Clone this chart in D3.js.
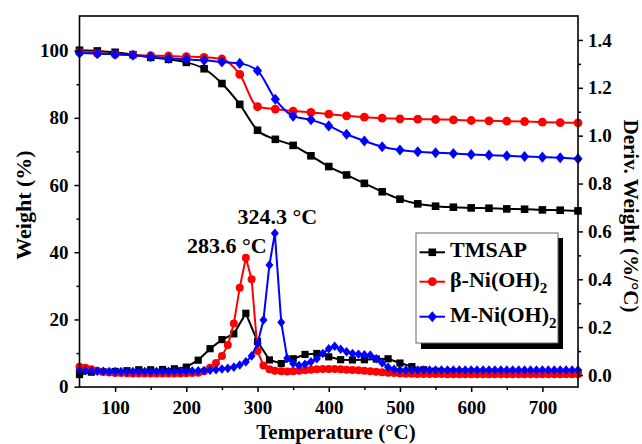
<!DOCTYPE html>
<html>
<head>
<meta charset="utf-8">
<script src="https://cdn.jsdelivr.net/npm/d3@7"></script>
<style>
  body { margin: 0; background: #fff; }
  svg { display: block; }
  text { font-family: "Liberation Serif", "Times New Roman", serif; font-weight: bold; fill: #000; }
</style>
</head>
<body>
<svg id="chart" width="642" height="444"></svg>
<script>
// ---- TG curves (weight %, left axis), sampled every 25 °C ----
const tgTemp = [50, 75, 100, 125, 150, 175, 200, 225, 250, 275, 300, 325, 350, 375, 400,
  425, 450, 475, 500, 525, 550, 575, 600, 625, 650, 675, 700, 725, 750];
const tgTmsap = [100.1, 99.9, 99.5, 98.8, 98.0, 97.4, 96.5, 94.6, 90.2, 84.0, 76.3, 73.6, 71.8, 68.7, 65.5,
  63.0, 60.5, 58.0, 55.8, 54.4, 53.7, 53.4, 53.2, 53.1, 52.9, 52.8, 52.6, 52.5, 52.3];
const tgBeta = [99.5, 99.2, 98.9, 98.7, 98.5, 98.4, 98.2, 98.0, 97.5, 92.9, 83.3, 82.6, 82.0, 81.6, 81.1,
  80.6, 80.2, 79.9, 79.7, 79.6, 79.5, 79.4, 79.2, 79.1, 79.0, 78.9, 78.7, 78.6, 78.5];
const tgM = [99.3, 99.1, 98.9, 98.6, 98.2, 97.7, 97.4, 97.1, 96.6, 96.2, 94.0, 85.5, 80.5, 79.4, 77.6,
  75.1, 73.1, 71.4, 70.4, 69.9, 69.6, 69.4, 69.1, 68.9, 68.7, 68.5, 68.3, 68.1, 67.8];

// ---- DTG curves (%/°C, right axis) ----
const dtgTemp = [50, 58.3, 66.7, 75, 83.3, 91.7, 100, 108.3, 116.7, 125,
  133.3, 141.7, 150, 158.3, 166.7, 175, 183.3, 191.7, 200, 208.3,
  216.7, 225, 233.3, 241.7, 250, 258.3, 266.7, 275, 283.6, 291.7,
  300, 308.3, 316.7, 324.3, 333.3, 341.7, 350, 358.3, 366.7, 375,
  383.3, 391.7, 400, 408.3, 416.7, 425, 433.3, 441.7, 450, 458.3,
  466.7, 475, 483.3, 491.7, 500, 508.3, 516.7, 525, 533.3, 541.7,
  550, 558.3, 566.7, 575, 583.3, 591.7, 600, 608.3, 616.7, 625,
  633.3, 641.7, 650, 658.3, 666.7, 675, 683.3, 691.7, 700, 708.3,
  716.7, 725, 733.3, 741.7, 750];
// TMSAP is recorded on every second temperature step
const dtgTempTmsap = [50, 66.7, 83.3, 100, 116.7, 133.3, 150, 166.7, 183.3, 200,
  216.7, 233.3, 250, 266.7, 283.6, 300, 316.7, 333.3, 350, 366.7,
  383.3, 400, 416.7, 433.3, 450, 466.7, 483.3, 500, 516.7, 533.3,
  550, 566.7, 583.3, 600, 616.7, 633.3, 650, 666.7, 683.3, 700,
  716.7, 733.3, 750];
const dtgTmsap = [0.002, 0.012, 0.014, 0.015, 0.018, 0.022, 0.022, 0.023, 0.026, 0.033,
  0.062, 0.11, 0.148, 0.172, 0.258, 0.14, 0.063, 0.048, 0.068, 0.086,
  0.09, 0.076, 0.064, 0.063, 0.064, 0.067, 0.068, 0.05, 0.035, 0.022,
  0.016, 0.013, 0.012, 0.012, 0.011, 0.011, 0.011, 0.011, 0.01, 0.01,
  0.01, 0.01, 0.01];
const dtgBeta = [0.035, 0.03, 0.024, 0.018, 0.014, 0.011, 0.009, 0.008, 0.007, 0.006,
  0.006, 0.006, 0.006, 0.006, 0.006, 0.006, 0.006, 0.006, 0.007, 0.008,
  0.01, 0.016, 0.03, 0.05, 0.08, 0.125, 0.215, 0.365, 0.49, 0.4,
  0.1, 0.04, 0.024, 0.018, 0.016, 0.015, 0.016, 0.018, 0.02, 0.022,
  0.024, 0.025, 0.025, 0.025, 0.024, 0.022, 0.021, 0.02, 0.018, 0.016,
  0.014, 0.012, 0.01, 0.008, 0.006, 0.005, 0.005, 0.004, 0.004, 0.004,
  0.004, 0.004, 0.003, 0.003, 0.003, 0.003, 0.003, 0.003, 0.003, 0.003,
  0.003, 0.003, 0.003, 0.003, 0.003, 0.003, 0.003, 0.003, 0.003, 0.003,
  0.003, 0.003, 0.003, 0.003, 0.003];
const dtgM = [0.02, 0.018, 0.017, 0.016, 0.016, 0.015, 0.015, 0.015, 0.015, 0.015,
  0.015, 0.015, 0.015, 0.015, 0.016, 0.016, 0.016, 0.016, 0.016, 0.017,
  0.018, 0.019, 0.02, 0.022, 0.025, 0.028, 0.033, 0.042, 0.055, 0.08,
  0.132, 0.23, 0.46, 0.592, 0.22, 0.07, 0.048, 0.04, 0.045, 0.055,
  0.068, 0.09, 0.11, 0.12, 0.108, 0.097, 0.09, 0.087, 0.085, 0.083,
  0.068, 0.05, 0.032, 0.024, 0.021, 0.021, 0.021, 0.021, 0.021, 0.021,
  0.021, 0.021, 0.021, 0.021, 0.021, 0.021, 0.021, 0.021, 0.021, 0.021,
  0.021, 0.021, 0.021, 0.021, 0.021, 0.021, 0.021, 0.021, 0.021, 0.021,
  0.021, 0.021, 0.021, 0.021, 0.021];

// Peak temperatures annotated on the DTG curves
const peakBeta = 283.6;
const peakM = 324.3;

// Tick values
const xTicks = [100, 200, 300, 400, 500, 600, 700];
const xMinor = [150, 250, 350, 450, 550, 650];
const yLeftTicks = [0, 20, 40, 60, 80, 100];
const yLeftMinor = [10, 30, 50, 70, 90];
const yRightTicks = [0, 0.2, 0.4, 0.6, 0.8, 1.0, 1.2, 1.4];
const yRightMinor = [0.1, 0.3, 0.5, 0.7, 0.9, 1.1, 1.3];

const seriesNames = ["TMSAP", "β-Ni(OH)", "M-Ni(OH)"];
const seriesSub = ["", "2", "2"];
const colors = ["#000000", "#ff0000", "#0000ff"];
const shapes = ["square", "circle", "diamond"];

// ---- layout ----
const L = 79.5, R = 578, T = 16, B = 387;
const svg = d3.select("#chart");

const x = d3.scaleLinear().domain([50, 750]).range([L, R]);
const yL = d3.scaleLinear().domain([-0.1, 110.3]).range([B, T]);
const yR = d3.scaleLinear().domain([-0.05, 1.5]).range([B, T]);

function markerPath(shape, s) {
  if (shape === "square") return `M${-s},${-s}H${s}V${s}H${-s}Z`;
  if (shape === "diamond") return `M0,${-s * 1.2}L${s},0L0,${s * 1.2}L${-s},0Z`;
  return d3.symbol(d3.symbolCircle, Math.PI * s * s)();
}

function drawSeries(xs, ys, yScale, color, shape, size, curve) {
  const pts = xs.map((t, i) => [x(t), yScale(ys[i])]);
  svg.append("path")
    .attr("d", d3.line().curve(curve)(pts))
    .attr("fill", "none").attr("stroke", color).attr("stroke-width", 2);
  svg.append("g").selectAll("path").data(pts).join("path")
    .attr("transform", d => `translate(${d[0]},${d[1]})`)
    .attr("d", markerPath(shape, size))
    .attr("fill", color);
}

// DTG curves
drawSeries(dtgTempTmsap, dtgTmsap, yR, colors[0], shapes[0], 3.6, d3.curveLinear);
drawSeries(dtgTemp, dtgBeta, yR, colors[1], shapes[1], 4, d3.curveLinear);
drawSeries(dtgTemp, dtgM, yR, colors[2], shapes[2], 4, d3.curveLinear);

// TG curves
drawSeries(tgTemp, tgTmsap, yL, colors[0], shapes[0], 3.8, d3.curveMonotoneX);
drawSeries(tgTemp, tgBeta, yL, colors[1], shapes[1], 4.4, d3.curveMonotoneX);
drawSeries(tgTemp, tgM, yL, colors[2], shapes[2], 4.6, d3.curveMonotoneX);

// ---- frame and axes ----
svg.append("rect").attr("x", L).attr("y", T).attr("width", R - L).attr("height", B - T)
  .attr("fill", "none").attr("stroke", "#000").attr("stroke-width", 1.6);

function styleAxis(g) {
  g.select(".domain").remove();
  g.selectAll("line").attr("stroke", "#000").attr("stroke-width", 1.5);
  g.selectAll("text").style("font-size", "19px").style("font-family", '"Liberation Serif", serif').style("font-weight", "bold");
}

svg.append("g").attr("transform", `translate(0,${B})`)
  .call(d3.axisBottom(x).tickValues(xTicks).tickSize(5).tickPadding(9).tickFormat(d3.format("d")))
  .call(styleAxis);
svg.append("g").attr("transform", `translate(0,${B})`)
  .call(d3.axisBottom(x).tickValues(xMinor).tickSize(3).tickFormat(""))
  .call(styleAxis);

svg.append("g").attr("transform", `translate(${L},0)`)
  .call(d3.axisLeft(yL).tickValues(yLeftTicks).tickSize(5).tickPadding(6).tickFormat(d3.format("d")))
  .call(styleAxis);
svg.append("g").attr("transform", `translate(${L},0)`)
  .call(d3.axisLeft(yL).tickValues(yLeftMinor).tickSize(3).tickFormat(""))
  .call(styleAxis);

svg.append("g").attr("transform", `translate(${R},0)`)
  .call(d3.axisRight(yR).tickValues(yRightTicks).tickSize(5).tickPadding(5).tickFormat(d3.format(".1f")))
  .call(styleAxis);
svg.append("g").attr("transform", `translate(${R},0)`)
  .call(d3.axisRight(yR).tickValues(yRightMinor).tickSize(3).tickFormat(""))
  .call(styleAxis);

// Axis titles
svg.append("text").attr("x", 336).attr("y", 438.5).attr("text-anchor", "middle")
  .style("font-size", "21px").text("Temperature (°C)");
svg.append("text").attr("transform", "translate(30.5,205) rotate(-90)").attr("text-anchor", "middle")
  .style("font-size", "22px").text("Weight (%)");
svg.append("text").attr("transform", "translate(624,216) rotate(90)").attr("text-anchor", "middle")
  .style("font-size", "21px").text("Deriv. Weight (%/°C)");

// Peak annotations
const betaPeakVal = dtgBeta[dtgTemp.indexOf(peakBeta)];
const mPeakVal = dtgM[dtgTemp.indexOf(peakM)];
svg.append("text").attr("x", x(peakBeta) - 19).attr("y", yR(betaPeakVal) - 4.5)
  .attr("text-anchor", "middle").style("font-size", "22px").text(`${peakBeta} °C`);
svg.append("text").attr("x", x(peakM) + 2.5).attr("y", yR(mPeakVal) - 9.5)
  .attr("text-anchor", "middle").style("font-size", "22px").text(`${peakM} °C`);

// ---- legend ----
const lg = svg.append("g");
lg.append("rect").attr("x", 421).attr("y", 238).attr("width", 142).attr("height", 111).attr("fill", "#000");
lg.append("rect").attr("x", 416).attr("y", 233).attr("width", 142).attr("height", 110)
  .attr("fill", "#fff").attr("stroke", "#666").attr("stroke-width", 1);
const rowY = [252.3, 281.7, 316.7];
seriesNames.forEach((name, i) => {
  const y0 = rowY[i];
  lg.append("line").attr("x1", 419.5).attr("x2", 445).attr("y1", y0).attr("y2", y0)
    .attr("stroke", colors[i]).attr("stroke-width", 2);
  lg.append("path").attr("transform", `translate(432.3,${y0})`)
    .attr("d", markerPath(shapes[i], shapes[i] === "circle" ? 4.4 : (shapes[i] === "diamond" ? 4.6 : 3.8)))
    .attr("fill", colors[i]);
  const t = lg.append("text").attr("x", 450).attr("y", y0 + 4.8).style("font-size", "22px").text(name);
  if (seriesSub[i]) t.append("tspan").attr("dy", 6).style("font-size", "15px").text(seriesSub[i]);
});
</script>
</body>
</html>
